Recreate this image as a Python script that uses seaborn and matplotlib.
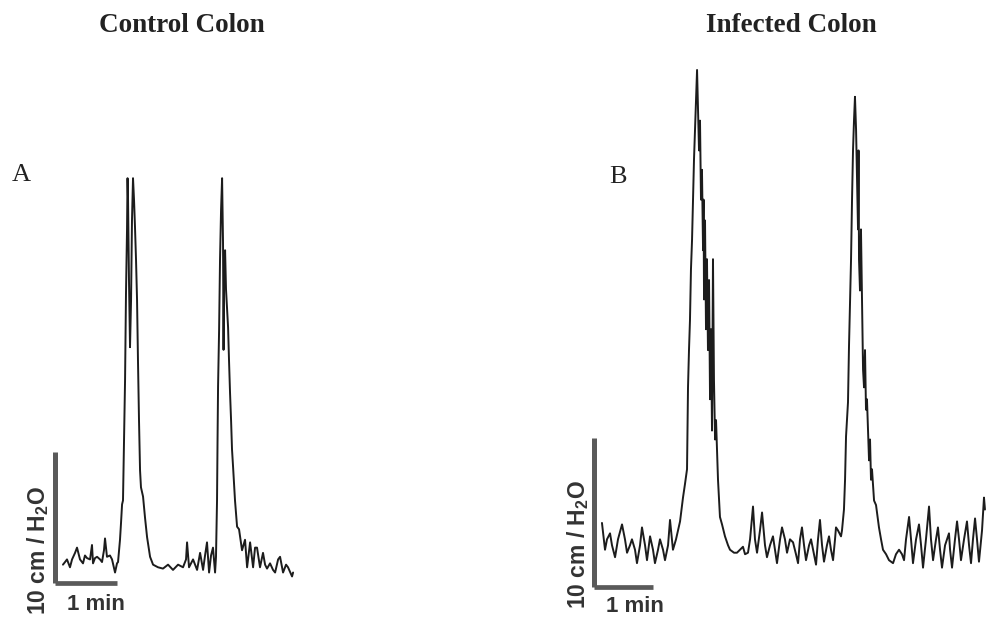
import numpy as np
import pandas as pd
import matplotlib
matplotlib.use("Agg")
import matplotlib.pyplot as plt
import seaborn as sns

# ---------------- data (time in s, pressure in cm H2O) ----------------
control_time = [7.7, 9.7, 11.6, 14.5, 16.5, 19.4, 21.3, 24.2, 27.1, 29.0, 31.0, 33.9, 35.8, 36.8,
                38.7, 40.7, 43.6, 45.5, 47.4, 48.4, 50.3, 53.2, 55.2, 58.1, 60.0, 61.0, 62.9, 63.9,
                64.9, 65.8, 66.8, 67.8, 68.7, 69.7, 70.2, 70.7, 71.6, 72.6, 73.6, 74.5, 75.5, 76.5,
                77.4, 78.4, 79.4, 80.3, 81.3, 82.3, 83.2, 85.2, 87.1, 89.1, 92.0, 94.9, 99.7, 104.5,
                109.4, 114.2, 119.1, 123.9, 126.8, 127.8, 129.7, 133.6, 137.5, 140.4, 143.3, 145.2,
                147.1, 149.1, 151.0, 152.9, 154.9, 155.8, 156.8, 157.3, 157.8, 158.8, 159.7, 160.7,
                161.7, 162.6, 163.1, 163.6, 164.6, 165.5, 167.5, 168.4, 169.4, 170.4, 171.3, 172.3,
                174.2, 176.2, 178.1, 181.0, 183.9, 185.9, 188.8, 191.7, 193.6, 195.5, 198.4, 201.3,
                203.3, 205.2, 208.1, 211.0, 213.0, 215.9, 217.8, 220.7, 223.6, 225.5, 229.4, 230.4]
control_pressure = [1.4, 1.6, 1.8, 1.2, 1.8, 2.3, 2.7, 1.8, 1.5, 2.1, 1.9, 1.8, 2.9, 1.5,
                    1.9, 2.0, 1.8, 1.6, 2.5, 3.4, 2.0, 2.1, 1.8, 0.8, 1.5, 1.6, 3.3, 4.6,
                    6.0, 6.3, 10.9, 15.5, 22.1, 27.0, 30.9, 29.2, 23.1, 18.0, 21.6, 27.7, 30.9, 29.2,
                    27.2, 24.7, 21.6, 17.0, 12.4, 8.6, 7.3, 6.6, 5.0, 3.5, 2.0, 1.4, 1.2, 1.1,
                    1.4, 1.0, 1.4, 1.2, 1.8, 3.1, 1.2, 1.8, 1.0, 2.3, 1.0, 2.1,
                    3.1, 0.8, 2.1, 2.7, 0.8, 2.0, 6.3, 10.9, 15.0, 19.3, 24.7, 28.5,
                    30.9, 26.0, 17.8, 23.1, 25.4, 22.4, 19.5, 17.0, 14.5, 12.4, 10.2, 8.9,
                    6.3, 4.3, 4.1, 2.5, 3.3, 1.2, 3.1, 1.2, 2.7, 2.7, 1.2, 2.3,
                    1.4, 1.1, 1.5, 1.0, 0.8, 1.8, 2.0, 0.8, 1.4, 1.2, 0.5, 0.8]

infected_time = [8.1, 11.2, 13.2, 16.3, 18.3, 21.4, 24.4, 28.5, 31.5, 33.6, 36.6, 38.6, 41.7, 43.7,
                 46.8, 48.8, 51.9, 53.9, 55.9, 57.0, 60.0, 62.0, 65.1, 67.1, 70.2, 72.2, 75.3, 77.3,
                 79.3, 80.3, 83.4, 87.5, 90.5, 92.5, 94.6, 95.6, 96.6, 97.6, 98.6, 99.7, 100.7, 101.7,
                 102.7, 103.7, 104.8, 105.8, 106.8, 107.8, 108.8, 109.8, 110.9, 111.4, 111.9, 112.9,
                 113.9, 114.9, 115.9, 117.0, 118.0, 119.0, 120.0, 121.0, 122.0, 123.1, 124.1, 126.1,
                 128.1, 130.2, 133.2, 136.3, 138.3, 142.4, 145.4, 148.5, 151.5, 153.6, 156.6, 158.7,
                 161.7, 163.7, 165.8, 168.8, 170.9, 173.9, 175.9, 179.0, 182.0, 184.1, 186.1, 189.2,
                 191.2, 194.2, 196.3, 199.3, 202.4, 205.4, 207.5, 209.5, 211.5, 213.6, 215.6, 218.7,
                 220.7, 223.7, 225.8, 227.8, 229.8, 231.9, 233.9, 236.9, 239.0, 241.0, 243.1, 245.1,
                 246.1, 248.1, 251.2, 252.2, 254.2, 255.3, 256.3, 258.3, 259.3, 260.4, 261.4, 262.4,
                 263.4, 264.4, 265.4, 266.5, 267.5, 268.5, 269.0, 269.5, 270.5, 271.5, 272.6, 273.6,
                 274.6, 275.6, 276.6, 277.6, 278.7, 279.7, 280.7, 281.7, 282.7, 284.8, 286.8, 289.8,
                 291.9, 293.9, 297.0, 300.0, 302.0, 304.1, 307.1, 310.2, 313.2, 315.3, 317.3, 320.4,
                 322.4, 324.4, 327.5, 330.5, 332.6, 334.6, 337.6, 340.7, 342.7, 344.8, 347.8, 349.8,
                 351.9, 353.9, 357.0, 361.0, 362.1, 364.1, 367.1, 369.2, 371.2, 373.2, 376.3, 379.3,
                 381.4, 383.4, 385.4, 387.5, 389.5, 391.5, 394.6, 396.6, 397.6]
infected_pressure = [4.3, 2.5, 3.2, 3.6, 2.8, 2.0, 3.2, 4.2, 3.2, 2.3, 2.8, 3.2, 2.5, 1.6,
                     2.8, 4.0, 2.8, 1.8, 2.8, 3.4, 2.5, 1.6, 2.5, 3.2, 2.5, 1.8, 2.8, 4.5,
                     3.2, 2.5, 3.2, 4.4, 6.0, 6.9, 7.9, 13.4, 15.9, 17.9, 21.3, 23.3, 26.0, 28.7,
                     30.7, 32.7, 34.7, 32.0, 29.3, 31.3, 26.0, 28.0, 22.6, 26.0, 19.3, 24.6,
                     17.3, 22.0, 15.9, 20.6, 12.6, 17.3, 10.5, 22.0, 13.9, 9.9, 11.2, 7.2,
                     4.7, 4.2, 3.4, 2.8, 2.5, 2.3, 2.3, 2.5, 2.7, 2.2, 2.3, 3.2,
                     5.4, 3.2, 2.3, 3.8, 5.0, 2.8, 2.0, 2.8, 3.4, 2.5, 1.6, 3.2,
                     4.0, 3.2, 2.3, 3.2, 3.0, 2.2, 1.6, 3.2, 4.0, 2.8, 1.8, 2.8,
                     3.2, 2.2, 1.5, 3.2, 4.5, 2.8, 1.7, 2.8, 3.4, 2.5, 1.8, 3.2,
                     4.0, 3.8, 3.4, 3.8, 5.2, 7.2, 10.1, 12.4, 16.1, 19.3, 22.0, 26.0,
                     29.3, 31.3, 32.9, 30.7, 27.3, 24.0, 29.3, 22.0, 19.9, 24.0, 19.1, 14.6,
                     13.4, 15.9, 11.9, 12.6, 10.5, 8.5, 9.9, 7.2, 7.9, 5.8, 5.5, 4.0,
                     3.2, 2.5, 2.2, 1.8, 1.7, 1.6, 2.2, 2.5, 2.2, 1.8, 3.2, 4.7,
                     3.2, 1.6, 3.2, 4.2, 2.8, 1.3, 3.2, 5.4, 3.2, 1.8, 3.2, 4.0,
                     2.5, 1.3, 2.8, 3.6, 2.5, 1.3, 3.2, 4.4, 3.2, 1.8, 3.2, 4.4,
                     2.8, 1.6, 3.2, 4.6, 3.2, 1.7, 3.8, 6.0, 5.2]

panel_titles = ["Control Colon", "Infected Colon"]
panel_letters = ["A", "B"]
scale_label_y = "10 cm / H$_{\\mathbf{2}}$O"
scale_label_x = "1 min"
SCALE_CM = 10
SCALE_S = 60

# ---------------- layout (pixels in a 986x622 canvas) ----------------
W, H = 986, 622
sns.set_style("white")
plt.rcParams["mathtext.fontset"] = "custom"
plt.rcParams["mathtext.bf"] = "Liberation Sans:bold"
plt.rcParams["mathtext.rm"] = "Liberation Sans:bold"

fig = plt.figure(figsize=(W / 100, H / 100), dpi=100)
fig.patch.set_facecolor("white")

def make_axes(rect_px, origin_px, px_per_s, px_per_cm):
    l, r, t, b = rect_px
    ax = fig.add_axes([l / W, 1 - b / H, (r - l) / W, (b - t) / H])
    ox, oy = origin_px
    ax.set_xlim((l - ox) / px_per_s, (r - ox) / px_per_s)
    ax.set_ylim((oy - b) / px_per_cm, (oy - t) / px_per_cm)
    ax.set_axis_off()
    return ax

axL = make_axes((40, 310, 160, 600), (55, 583), 62 / 60, 131 / 10)
axR = make_axes((580, 986, 50, 600), (594, 587), 59 / 60, 149 / 10)

trace_color = "#1c1c1c"
bar_color = "#5a5a5a"

for ax, tt, pp in [(axL, control_time, control_pressure), (axR, infected_time, infected_pressure)]:
    df = pd.DataFrame({"t": tt, "p": pp})
    sns.lineplot(data=df, x="t", y="p", ax=ax, color=trace_color, linewidth=1.4,
                 estimator=None, sort=False, legend=False)
    for ln in ax.lines:
        ln.set_clip_on(False)
    # scale bars
    ax.plot([0, 0], [0, SCALE_CM], color=bar_color, lw=3.6, solid_capstyle="butt", clip_on=False)
    ax.plot([0, SCALE_S], [0, 0], color=bar_color, lw=3.4, solid_capstyle="butt", clip_on=False)

# titles & letters
serif = ["Liberation Serif", "DejaVu Serif"]
fig.text(182 / W, 1 - 26 / H, panel_titles[0], ha="center", va="center", family=serif,
         fontsize=19.5, fontweight="bold", color="#222222")
fig.text(791 / W, 1 - 26 / H, panel_titles[1], ha="center", va="center", family=serif,
         fontsize=19.5, fontweight="bold", color="#222222")
fig.text(21 / W, 1 - 175 / H, panel_letters[0], ha="center", va="center", family=serif,
         fontsize=19, color="#222222")
fig.text(618 / W, 1 - 177 / H, panel_letters[1], ha="center", va="center", family=serif,
         fontsize=19, color="#222222")

sans = ["Liberation Sans", "DejaVu Sans"]
fig.text(38 / W, 1 - 551 / H, scale_label_y, rotation=90, ha="center", va="center",
         family=sans, fontsize=16.5, fontweight="bold", color="#333333")
fig.text(578 / W, 1 - 545 / H, scale_label_y, rotation=90, ha="center", va="center",
         family=sans, fontsize=16.5, fontweight="bold", color="#333333")
fig.text(96 / W, 1 - 604 / H, scale_label_x, ha="center", va="center",
         family=sans, fontsize=16, fontweight="bold", color="#333333")
fig.text(635 / W, 1 - 607 / H, scale_label_x, ha="center", va="center",
         family=sans, fontsize=16, fontweight="bold", color="#333333")

fig.savefig("out.png", dpi=100, facecolor="white")
